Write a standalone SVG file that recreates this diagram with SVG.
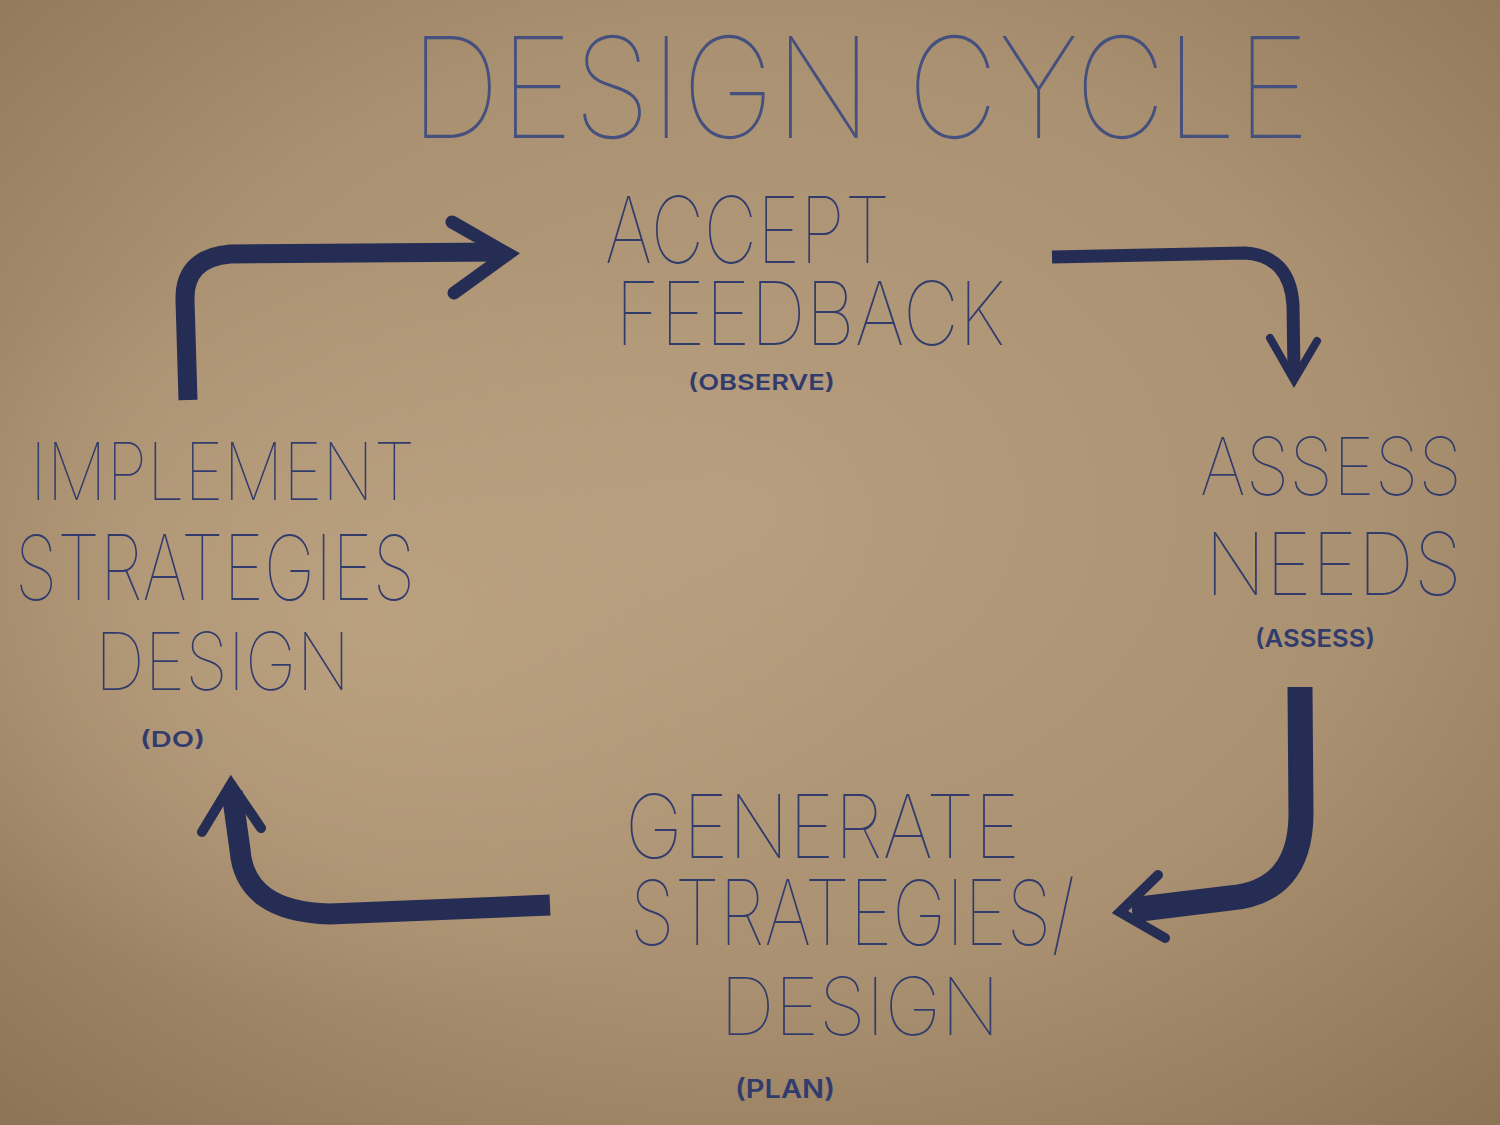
<svg xmlns="http://www.w3.org/2000/svg" width="1500" height="1125" viewBox="0 0 1500 1125">
  <defs>
    <radialGradient id="paper" cx="0.5" cy="0.45" r="0.75">
      <stop offset="0" stop-color="#b59d7e"/>
      <stop offset="0.55" stop-color="#aa9171"/>
      <stop offset="1" stop-color="#8c7356"/>
    </radialGradient>
    <radialGradient id="glow" cx="0.25" cy="0.55" r="0.35">
      <stop offset="0" stop-color="#c2a886" stop-opacity="0.6"/>
      <stop offset="1" stop-color="#c2a886" stop-opacity="0"/>
    </radialGradient>
    <style>
      .t { font-family: Inter, "DejaVu Sans", "Liberation Sans", sans-serif; font-weight: 100; fill: #323c6c; }
      .h { fill: #45507e; }
      .s { font-family: Inter, "DejaVu Sans", "Liberation Sans", sans-serif; font-weight: 600; fill: #323c6c; }
      .shaft { fill: none; stroke: #262d55; stroke-linecap: butt; stroke-linejoin: round; }
      .barb { fill: none; stroke: #262d55; stroke-linecap: round; stroke-linejoin: miter; }
    </style>
  </defs>

  <rect width="1500" height="1125" fill="url(#paper)"/>
  <rect width="1500" height="1125" fill="url(#glow)"/>

  <g id="title">
    <text class="t h" x="410" y="138" font-size="140" textLength="900" lengthAdjust="spacingAndGlyphs">DESIGN CYCLE</text>
  </g>

  <g id="node-accept-feedback">
    <text class="t" x="605" y="263" font-size="92" textLength="285" lengthAdjust="spacingAndGlyphs">ACCEPT</text>
    <text class="t" x="615" y="345" font-size="88" textLength="390" lengthAdjust="spacingAndGlyphs">FEEDBACK</text>
    <text class="s" x="688" y="390" font-size="22" textLength="147" lengthAdjust="spacingAndGlyphs">(OBSERVE)</text>
  </g>

  <g id="node-assess-needs">
    <text class="t" x="1200" y="495" font-size="80" textLength="262" lengthAdjust="spacingAndGlyphs">ASSESS</text>
    <text class="t" x="1205" y="595" font-size="86" textLength="257" lengthAdjust="spacingAndGlyphs">NEEDS</text>
    <text class="s" x="1255" y="647" font-size="24" textLength="120" lengthAdjust="spacingAndGlyphs">(ASSESS)</text>
  </g>

  <g id="node-generate">
    <text class="t" x="625" y="858" font-size="88" textLength="395" lengthAdjust="spacingAndGlyphs">GENERATE</text>
    <text class="t" x="630" y="945" font-size="90" textLength="445" lengthAdjust="spacingAndGlyphs">STRATEGIES/</text>
    <text class="t" x="720" y="1035" font-size="80" textLength="280" lengthAdjust="spacingAndGlyphs">DESIGN</text>
    <text class="s" x="735" y="1098" font-size="26" textLength="100" lengthAdjust="spacingAndGlyphs">(PLAN)</text>
  </g>

  <g id="node-implement">
    <text class="t" x="30" y="500" font-size="80" textLength="385" lengthAdjust="spacingAndGlyphs">IMPLEMENT</text>
    <text class="t" x="15" y="600" font-size="90" textLength="400" lengthAdjust="spacingAndGlyphs">STRATEGIES</text>
    <text class="t" x="95" y="690" font-size="80" textLength="255" lengthAdjust="spacingAndGlyphs">DESIGN</text>
    <text class="s" x="140" y="747" font-size="22" textLength="65" lengthAdjust="spacingAndGlyphs">(DO)</text>
  </g>

  <g id="connectors">
    <!-- implement -> accept -->
    <path class="shaft" stroke-width="19" d="M188 400 L185 300 Q184 258 230 254 L500 252"/>
    <path class="barb" stroke-width="13" d="M452 222 L508 254 L454 293"/>
    <!-- accept -> assess -->
    <path class="shaft" stroke-width="13" d="M1052 257 L1245 253 Q1290 256 1293 305 L1294 372"/>
    <path class="barb" stroke-width="8" d="M1270 338 L1294 380 L1317 341"/>
    <!-- assess -> generate -->
    <path class="shaft" stroke-width="25" d="M1300 687 L1301 815 Q1300 892 1230 898 L1132 910"/>
    <path class="barb" stroke-width="10" d="M1158 875 L1120 912 L1165 938"/>
    <!-- generate -> implement -->
    <path class="shaft" stroke-width="21" d="M550 905 L330 914 Q245 912 240 850 L232 792"/>
    <path class="barb" stroke-width="10" d="M202 832 L231 784 L261 828"/>
  </g>
</svg>
